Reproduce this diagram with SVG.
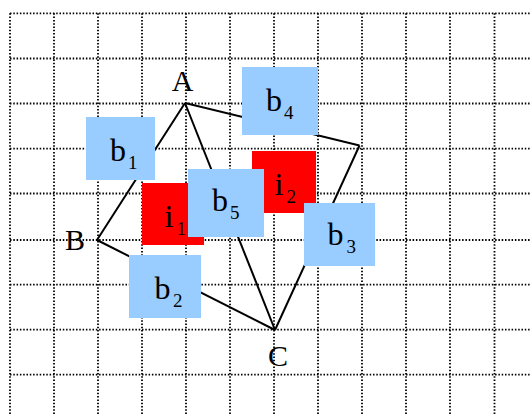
<svg xmlns="http://www.w3.org/2000/svg" width="530" height="416" viewBox="0 0 530 416">
<style>
.grid line{stroke:#000;stroke-width:1.8;stroke-dasharray:1.5 1.8}
.edge{stroke:#000;stroke-width:2;fill:none}
.blue{fill:#99CCFF}
.red{fill:#FF0000}
.lbl{font-family:"Liberation Serif","Times New Roman",serif;font-size:32px;fill:#000}
.sub{font-size:19px}
.pt{font-family:"Liberation Serif","Times New Roman",serif;font-size:30px;fill:#000;text-anchor:middle}
</style>
<rect width="530" height="416" fill="#fff"/>
<g class="grid" id="grid">
<line x1="10" y1="13.3" x2="10" y2="416"/>
<line x1="54" y1="13.3" x2="54" y2="416"/>
<line x1="98" y1="13.3" x2="98" y2="416"/>
<line x1="142" y1="13.3" x2="142" y2="416"/>
<line x1="186" y1="13.3" x2="186" y2="416"/>
<line x1="230" y1="13.3" x2="230" y2="416"/>
<line x1="274" y1="13.3" x2="274" y2="416"/>
<line x1="318" y1="13.3" x2="318" y2="416"/>
<line x1="362" y1="13.3" x2="362" y2="416"/>
<line x1="406" y1="13.3" x2="406" y2="416"/>
<line x1="450" y1="13.3" x2="450" y2="416"/>
<line x1="494.5" y1="13.3" x2="494.5" y2="416"/>
<line x1="10" y1="13.3" x2="530" y2="13.3"/>
<line x1="10" y1="58.5" x2="530" y2="58.5"/>
<line x1="10" y1="103.5" x2="530" y2="103.5"/>
<line x1="10" y1="148.7" x2="530" y2="148.7"/>
<line x1="10" y1="193.5" x2="530" y2="193.5"/>
<line x1="10" y1="240" x2="530" y2="240"/>
<line x1="10" y1="284.7" x2="530" y2="284.7"/>
<line x1="10" y1="329.7" x2="530" y2="329.7"/>
<line x1="10" y1="374.7" x2="530" y2="374.7"/>
</g>
<g id="connectors">
<line class="edge" x1="185" y1="103" x2="97" y2="240"/>
<line class="edge" x1="185" y1="103" x2="359.5" y2="145.5"/>
<line class="edge" x1="185" y1="103" x2="275" y2="330"/>
<line class="edge" x1="97" y1="240" x2="275" y2="330"/>
<line class="edge" x1="359.5" y1="145.5" x2="275" y2="330"/>
</g>
<g id="A"><text class="pt" x="182.5" y="91">A</text></g>
<g id="B"><text class="pt" x="75" y="250">B</text></g>
<g id="C"><text class="pt" x="278" y="366">C</text></g>
<g id="i1"><rect class="red" x="142" y="183" width="62" height="62"/><text class="lbl" x="164.5" y="227">i<tspan class="sub" x="176.5" y="234.5">1</tspan></text></g>
<g id="i2"><rect class="red" x="252" y="151" width="64" height="62"/><text class="lbl" x="274.5" y="195">i<tspan class="sub" x="286.5" y="202.5">2</tspan></text></g>
<g id="b1"><rect class="blue" x="86" y="117" width="69" height="63"/><text class="lbl" x="110" y="161">b<tspan class="sub" x="128" y="168.5">1</tspan></text></g>
<g id="b2"><rect class="blue" x="129" y="255" width="72" height="63"/><text class="lbl" x="154.5" y="299">b<tspan class="sub" x="173" y="307">2</tspan></text></g>
<g id="b3"><rect class="blue" x="304" y="203" width="71" height="63"/><text class="lbl" x="327.5" y="244.5">b<tspan class="sub" x="346.5" y="252.5">3</tspan></text></g>
<g id="b4"><rect class="blue" x="242" y="67" width="76" height="68"/><text class="lbl" x="266" y="111">b<tspan class="sub" x="284" y="119">4</tspan></text></g>
<g id="b5"><rect class="blue" x="188" y="169" width="76" height="68"/><text class="lbl" x="212" y="211">b<tspan class="sub" x="230" y="219">5</tspan></text></g>
</svg>
